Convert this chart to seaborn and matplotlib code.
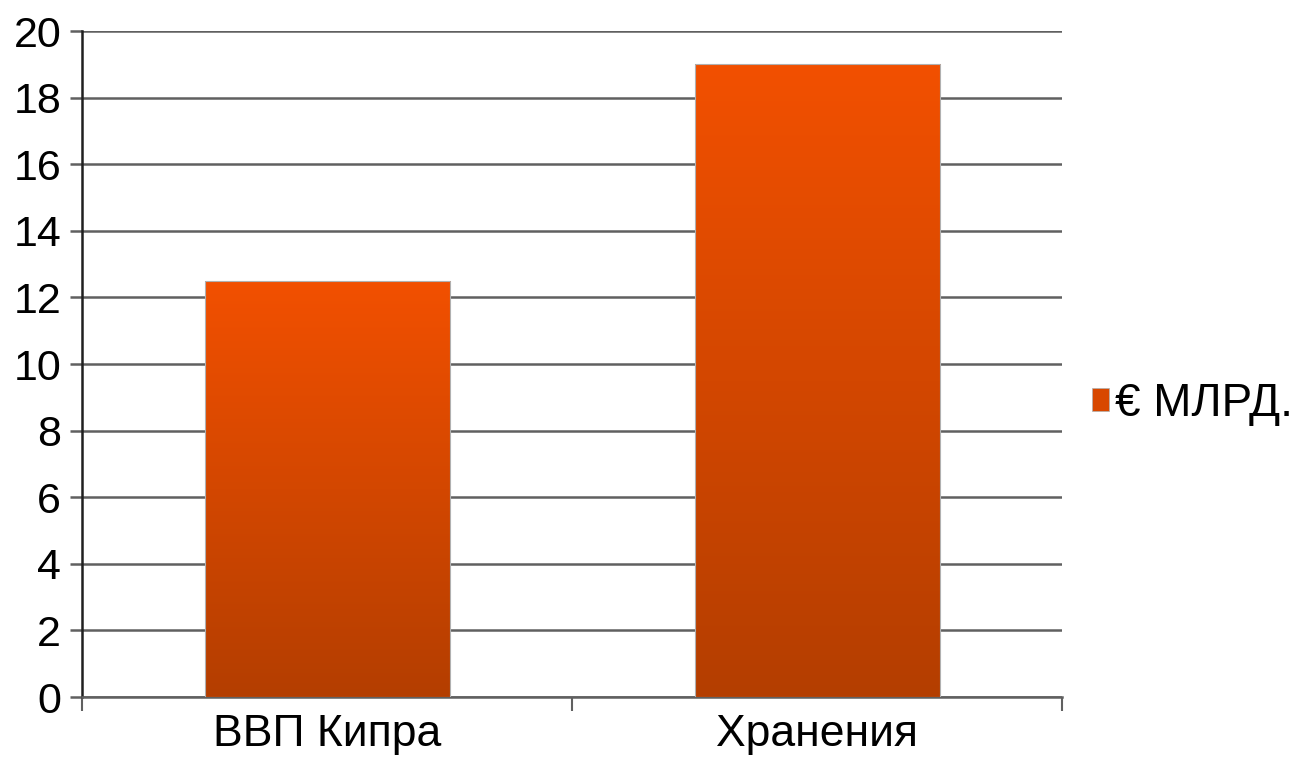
import numpy as np
import seaborn as sns
import matplotlib.pyplot as plt
from matplotlib.colors import LinearSegmentedColormap
from matplotlib.patches import Patch

categories = ["ВВП Кипра", "Хранения"]
values = [12.5, 19.0]
series_label = "€ МЛРД."
y_ticks = [0, 2, 4, 6, 8, 10, 12, 14, 16, 18, 20]

sns.set_style("white")
plt.rcParams["font.family"] = ["Liberation Sans", "DejaVu Sans"]
plt.rcParams["text.color"] = "black"

fig = plt.figure(figsize=(13.06, 7.68), dpi=100)
ax = fig.add_axes([0.0628, 0.0924, 0.7505, 0.8672])

sns.barplot(x=categories, y=values, color="#d84800", width=0.5,
            edgecolor="#b0b0b0", linewidth=0.8, ax=ax, zorder=3)

# vertical gradient fill clipped to each bar
cmap = LinearSegmentedColormap.from_list("bar", ["#b43e00", "#f25000"])
grad = np.linspace(0, 1, 256).reshape(-1, 1)
for bar in ax.patches:
    x0, y0 = bar.get_x(), bar.get_y()
    w, h = bar.get_width(), bar.get_height()
    im = ax.imshow(grad, cmap=cmap, origin="lower", aspect="auto",
                   extent=[x0, x0 + w, y0, y0 + h], zorder=4)
    im.set_clip_path(bar)
    bar.set_facecolor("none")
    bar.set_zorder(5)

ax.set_xlim(-0.5, 1.5)
ax.set_ylim(0, 20)
ax.set_yticks(y_ticks)
ax.yaxis.grid(True, color="#606060", linewidth=1.8, zorder=1)
ax.xaxis.grid(False)

ax.set_xticks([-0.5, 0.5, 1.5])
ax.set_xticklabels([])
ax.set_xticks([0, 1], minor=True)
ax.set_xticklabels(categories, minor=True)
ax.tick_params(axis="x", which="major", length=10, width=1.5, color="#606060", direction="out")
ax.tick_params(axis="x", which="minor", length=0, pad=12, labelsize=32, labelcolor="black")
ax.tick_params(axis="y", length=9, width=1.8, color="#606060", direction="out", pad=6,
               labelsize=31, labelcolor="black")
ax.tick_params(bottom=True, left=True)

for side in ["top", "right"]:
    ax.spines[side].set_visible(False)
ax.spines["left"].set_color("#202020")
ax.spines["left"].set_linewidth(1.8)
ax.spines["bottom"].set_color("#606060")
ax.spines["bottom"].set_linewidth(1.8)

handle = Patch(facecolor="#d84800", edgecolor="#b0b0b0", linewidth=0.5)
ax.legend([handle], [series_label], loc="center left", bbox_to_anchor=(1.0, 0.44),
          frameon=False, fontsize=33, handlelength=0.38, handleheight=0.38,
          handletextpad=0.12, borderaxespad=0.45, borderpad=0.2)

ax.set_xlabel("")
ax.set_ylabel("")
fig.savefig("out.png", dpi=100)
